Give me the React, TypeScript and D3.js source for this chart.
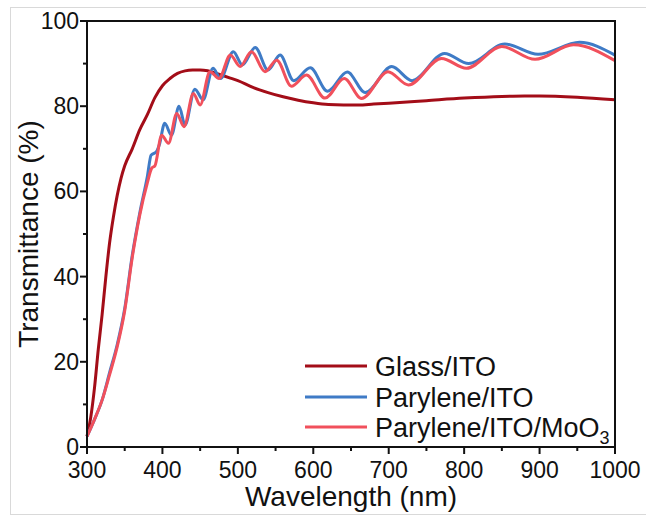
import React from "react";
import * as d3 from "d3";

const glassWl = [300, 305, 310, 315, 320, 325, 330, 335, 340, 345, 350, 360, 370, 380, 390, 400, 410, 420, 430, 440, 450, 460, 470, 480, 490, 500, 520, 540, 560, 580, 600, 620, 640, 660, 680, 700, 750, 800, 850, 880, 900, 950, 1000];
const glassT = [2.5, 7, 14, 23, 31, 40, 48, 54, 59, 63, 66, 70, 74.5, 78, 82, 84.8, 86.5, 87.7, 88.3, 88.5, 88.5, 88.3, 87.8, 87.2, 86.6, 86, 84.4, 83.2, 82.2, 81.4, 80.8, 80.4, 80.3, 80.3, 80.5, 80.7, 81.3, 81.9, 82.3, 82.4, 82.4, 82.1, 81.5];

const paryWl = [300, 310, 320, 330, 340, 350, 360, 370, 380, 385, 392, 396, 403, 412, 422, 430, 443, 454, 467, 477, 494, 506, 523, 540, 556, 574, 596, 619, 645, 669, 704, 731, 774, 806, 854, 898, 953, 1000];
const paryT = [2.5, 6.5, 11, 17.5, 24, 32.5, 45, 55, 63.5, 68.5, 69.3, 71, 76, 73.2, 80, 75.6, 84, 81.5, 88.9, 86.5, 92.8, 89.7, 93.8, 88.5, 92, 86, 89, 83.5, 88, 83.2, 89.3, 86, 92.4, 90, 94.6, 92.2, 95, 92];

const mooWl = [300, 310, 320, 330, 340, 350, 360, 370, 380, 386, 390, 399, 408, 419, 428.6, 441, 450, 463, 475, 490, 503, 518, 536, 551.5, 571, 591, 615.5, 641, 664, 699, 726, 770, 803, 850, 894, 945, 1000];
const mooT = [2.5, 6.5, 11, 17, 23.5, 32, 44.5, 54.5, 62, 65.5, 66, 73.2, 71.3, 78.3, 75.2, 83, 80.3, 88.1, 86.5, 92, 89.3, 92.8, 88.1, 90.8, 84.7, 87.3, 81.9, 86.5, 81.8, 88.1, 85, 91.2, 88.9, 94, 91, 94.4, 90.7];

const xMajor = [300, 400, 500, 600, 700, 800, 900, 1000];
const xMinor = [350, 450, 550, 650, 750, 850, 950];
const yMajor = [0, 20, 40, 60, 80, 100];
const yMinor = [10, 30, 50, 70, 90];

const seriesNames = ["Glass/ITO", "Parylene/ITO", "Parylene/ITO/MoO"];
const seriesColors = ["#a30d18", "#3f7bc6", "#f1505c"];

const FONT = "'Liberation Sans', Arial, sans-serif";

export default function App() {
  const L = 87, R = 615, T = 21, B = 447;
  const x = d3.scaleLinear().domain([300, 1000]).range([L, R]);
  const y = d3.scaleLinear().domain([0, 100]).range([B, T]);

  const mk = (wl: number[], v: number[], curve: any) =>
    d3.line<number>().x((_, i) => x(wl[i])).y((d) => y(d)).curve(curve)(v) || "";

  const paths = [
    mk(glassWl, glassT, d3.curveMonotoneX),
    mk(paryWl, paryT, d3.curveMonotoneX),
    mk(mooWl, mooT, d3.curveMonotoneX),
  ];

  const legY = [366, 397, 427];

  return (
    <svg width={646} height={517} style={{ position: "absolute", left: 0, top: 0 }} fontFamily={FONT}>
      <rect x={0} y={0} width={646} height={517} fill="#fff" />
      <line x1={10} y1={7.5} x2={646} y2={7.5} stroke="#d9d9d9" />
      <line x1={10.5} y1={7} x2={10.5} y2={515} stroke="#d9d9d9" />
      <line x1={10} y1={514.5} x2={646} y2={514.5} stroke="#d9d9d9" />

      {paths.map((p, i) => (
        <path key={i} d={p} fill="none" stroke={seriesColors[i]} strokeWidth={3} strokeLinejoin="round" />
      ))}

      <rect x={L} y={T} width={R - L} height={B - T} fill="none" stroke="#111" strokeWidth={2} />

      {xMajor.map((v) => (
        <g key={"xm" + v}>
          <line x1={x(v)} x2={x(v)} y1={B} y2={B + 7} stroke="#111" strokeWidth={2} />
          <text x={x(v)} y={478} fontSize={23} textAnchor="middle" fill="#111">{v}</text>
        </g>
      ))}
      {xMinor.map((v) => (
        <line key={"xn" + v} x1={x(v)} x2={x(v)} y1={B} y2={B + 4} stroke="#111" strokeWidth={2} />
      ))}
      {yMajor.map((v) => (
        <g key={"ym" + v}>
          <line x1={L - 7} x2={L} y1={y(v)} y2={y(v)} stroke="#111" strokeWidth={2} />
          <text x={79} y={y(v) + 8} fontSize={23} textAnchor="end" fill="#111">{v}</text>
        </g>
      ))}
      {yMinor.map((v) => (
        <line key={"yn" + v} x1={L - 4} x2={L} y1={y(v)} y2={y(v)} stroke="#111" strokeWidth={2} />
      ))}

      <text x={(L + R) / 2} y={506} fontSize={28} textAnchor="middle" fill="#111">Wavelength (nm)</text>
      <text transform={`translate(38,${(T + B) / 2}) rotate(-90)`} fontSize={28} textAnchor="middle" fill="#111">Transmittance (%)</text>

      {seriesNames.map((n, i) => (
        <g key={n}>
          <line x1={305} x2={367} y1={legY[i]} y2={legY[i]} stroke={seriesColors[i]} strokeWidth={3} />
          <text x={375} y={legY[i] + 9.5} fontSize={27} fill="#111">
            {n}
            {i === 2 && <tspan fontSize={18} dy={7}>3</tspan>}
          </text>
        </g>
      ))}
    </svg>
  );
}
